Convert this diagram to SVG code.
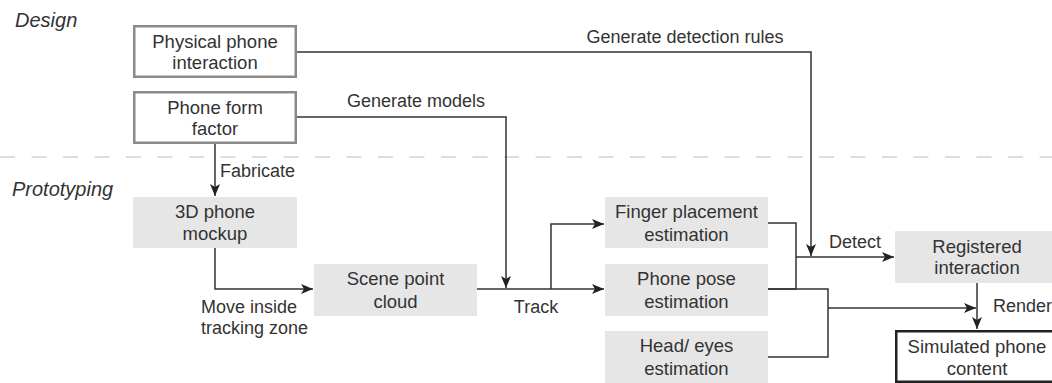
<svg xmlns="http://www.w3.org/2000/svg" width="1052" height="383" viewBox="0 0 1052 383">
<defs>
<style>
text{font-family:"Liberation Sans",Arial,sans-serif;fill:#333;}
.lbl{font-size:18px;}
.box{font-size:18.5px;text-anchor:middle;}
.sec{font-size:20px;font-style:italic;}
.design{fill:#fff;stroke:#8a8a8a;stroke-width:2.5;}
.proto{fill:#e6e6e7;stroke:none;}
.final{fill:#fff;stroke:#222;stroke-width:2.5;}
.conn{fill:none;stroke:#333;stroke-width:1.5;}
</style>
<marker id="arr" viewBox="0 0 12 10" refX="12" refY="5" markerWidth="12" markerHeight="10" markerUnits="userSpaceOnUse" orient="auto">
<path d="M0,0 L12,5 L0,10 L3,5 Z" fill="#222"/>
</marker>
</defs>
<rect width="1052" height="383" fill="#fff"/>
<line x1="0" y1="157" x2="1052" y2="157" stroke="#bbb" stroke-width="1.2" stroke-dasharray="15 16.5"/>
<text class="sec" x="15" y="27">Design</text>
<text class="sec" x="12" y="196">Prototyping</text>

<g id="connectors">
<path class="conn" d="M297,52 H811 V256" marker-end="url(#arr)"/>
<path class="conn" d="M297,117 H506 V288" marker-end="url(#arr)"/>
<path class="conn" d="M215,143 V196" marker-end="url(#arr)"/>
<path class="conn" d="M215,248 V289 H313" marker-end="url(#arr)"/>
<path class="conn" d="M477,289 H604" marker-end="url(#arr)"/>
<path class="conn" d="M551,289 V224 H604" marker-end="url(#arr)"/>
<path class="conn" d="M768,223 H796 V289 H768"/>
<path class="conn" d="M768,289 H828 V357 H768"/>
<path class="conn" d="M796,257 H894" marker-end="url(#arr)"/>
<path class="conn" d="M828,308 H976" marker-end="url(#arr)"/>
<path class="conn" d="M977,283 V329" marker-end="url(#arr)"/>
<text class="lbl" x="685" y="43" text-anchor="middle">Generate detection rules</text>
<text class="lbl" x="416" y="107" text-anchor="middle">Generate models</text>
<text class="lbl" x="220" y="177">Fabricate</text>
<text class="lbl" x="201" y="313">Move inside</text>
<text class="lbl" x="201" y="334">tracking zone</text>
<text class="lbl" x="536" y="313" text-anchor="middle">Track</text>
<text class="lbl" x="829" y="248">Detect</text>
<text class="lbl" x="993" y="312">Render</text>
</g>

<g id="physical">
<rect class="design" x="134.25" y="26.25" width="161.5" height="50.5"/>
<text class="box" x="215" y="48">Physical phone</text>
<text class="box" x="215" y="69">interaction</text>
</g>
<g id="formfactor">
<rect class="design" x="134.25" y="92.25" width="161.5" height="50.5"/>
<text class="box" x="215" y="114">Phone form</text>
<text class="box" x="215" y="135">factor</text>
</g>
<g id="mockup">
<rect class="proto" x="133" y="197" width="164" height="51"/>
<text class="box" x="215" y="218">3D phone</text>
<text class="box" x="215" y="240">mockup</text>
</g>
<g id="scene">
<rect class="proto" x="314" y="264" width="163" height="52"/>
<text class="box" x="395.5" y="285">Scene point</text>
<text class="box" x="395.5" y="308">cloud</text>
</g>
<g id="finger">
<rect class="proto" x="605" y="197" width="163" height="51"/>
<text class="box" x="686.5" y="218">Finger placement</text>
<text class="box" x="686.5" y="241">estimation</text>
</g>
<g id="pose">
<rect class="proto" x="605" y="264" width="163" height="52"/>
<text class="box" x="686.5" y="285">Phone pose</text>
<text class="box" x="686.5" y="308">estimation</text>
</g>
<g id="head">
<rect class="proto" x="605" y="331" width="163" height="52"/>
<text class="box" x="686.5" y="352">Head/ eyes</text>
<text class="box" x="686.5" y="375">estimation</text>
</g>
<g id="registered">
<rect class="proto" x="895" y="231" width="164" height="52"/>
<text class="box" x="977" y="253">Registered</text>
<text class="box" x="977" y="274">interaction</text>
</g>
<g id="simulated">
<rect class="final" x="896.25" y="331.25" width="162" height="50.5"/>
<text class="box" x="977" y="353">Simulated phone</text>
<text class="box" x="977" y="375">content</text>
</g>
</svg>
